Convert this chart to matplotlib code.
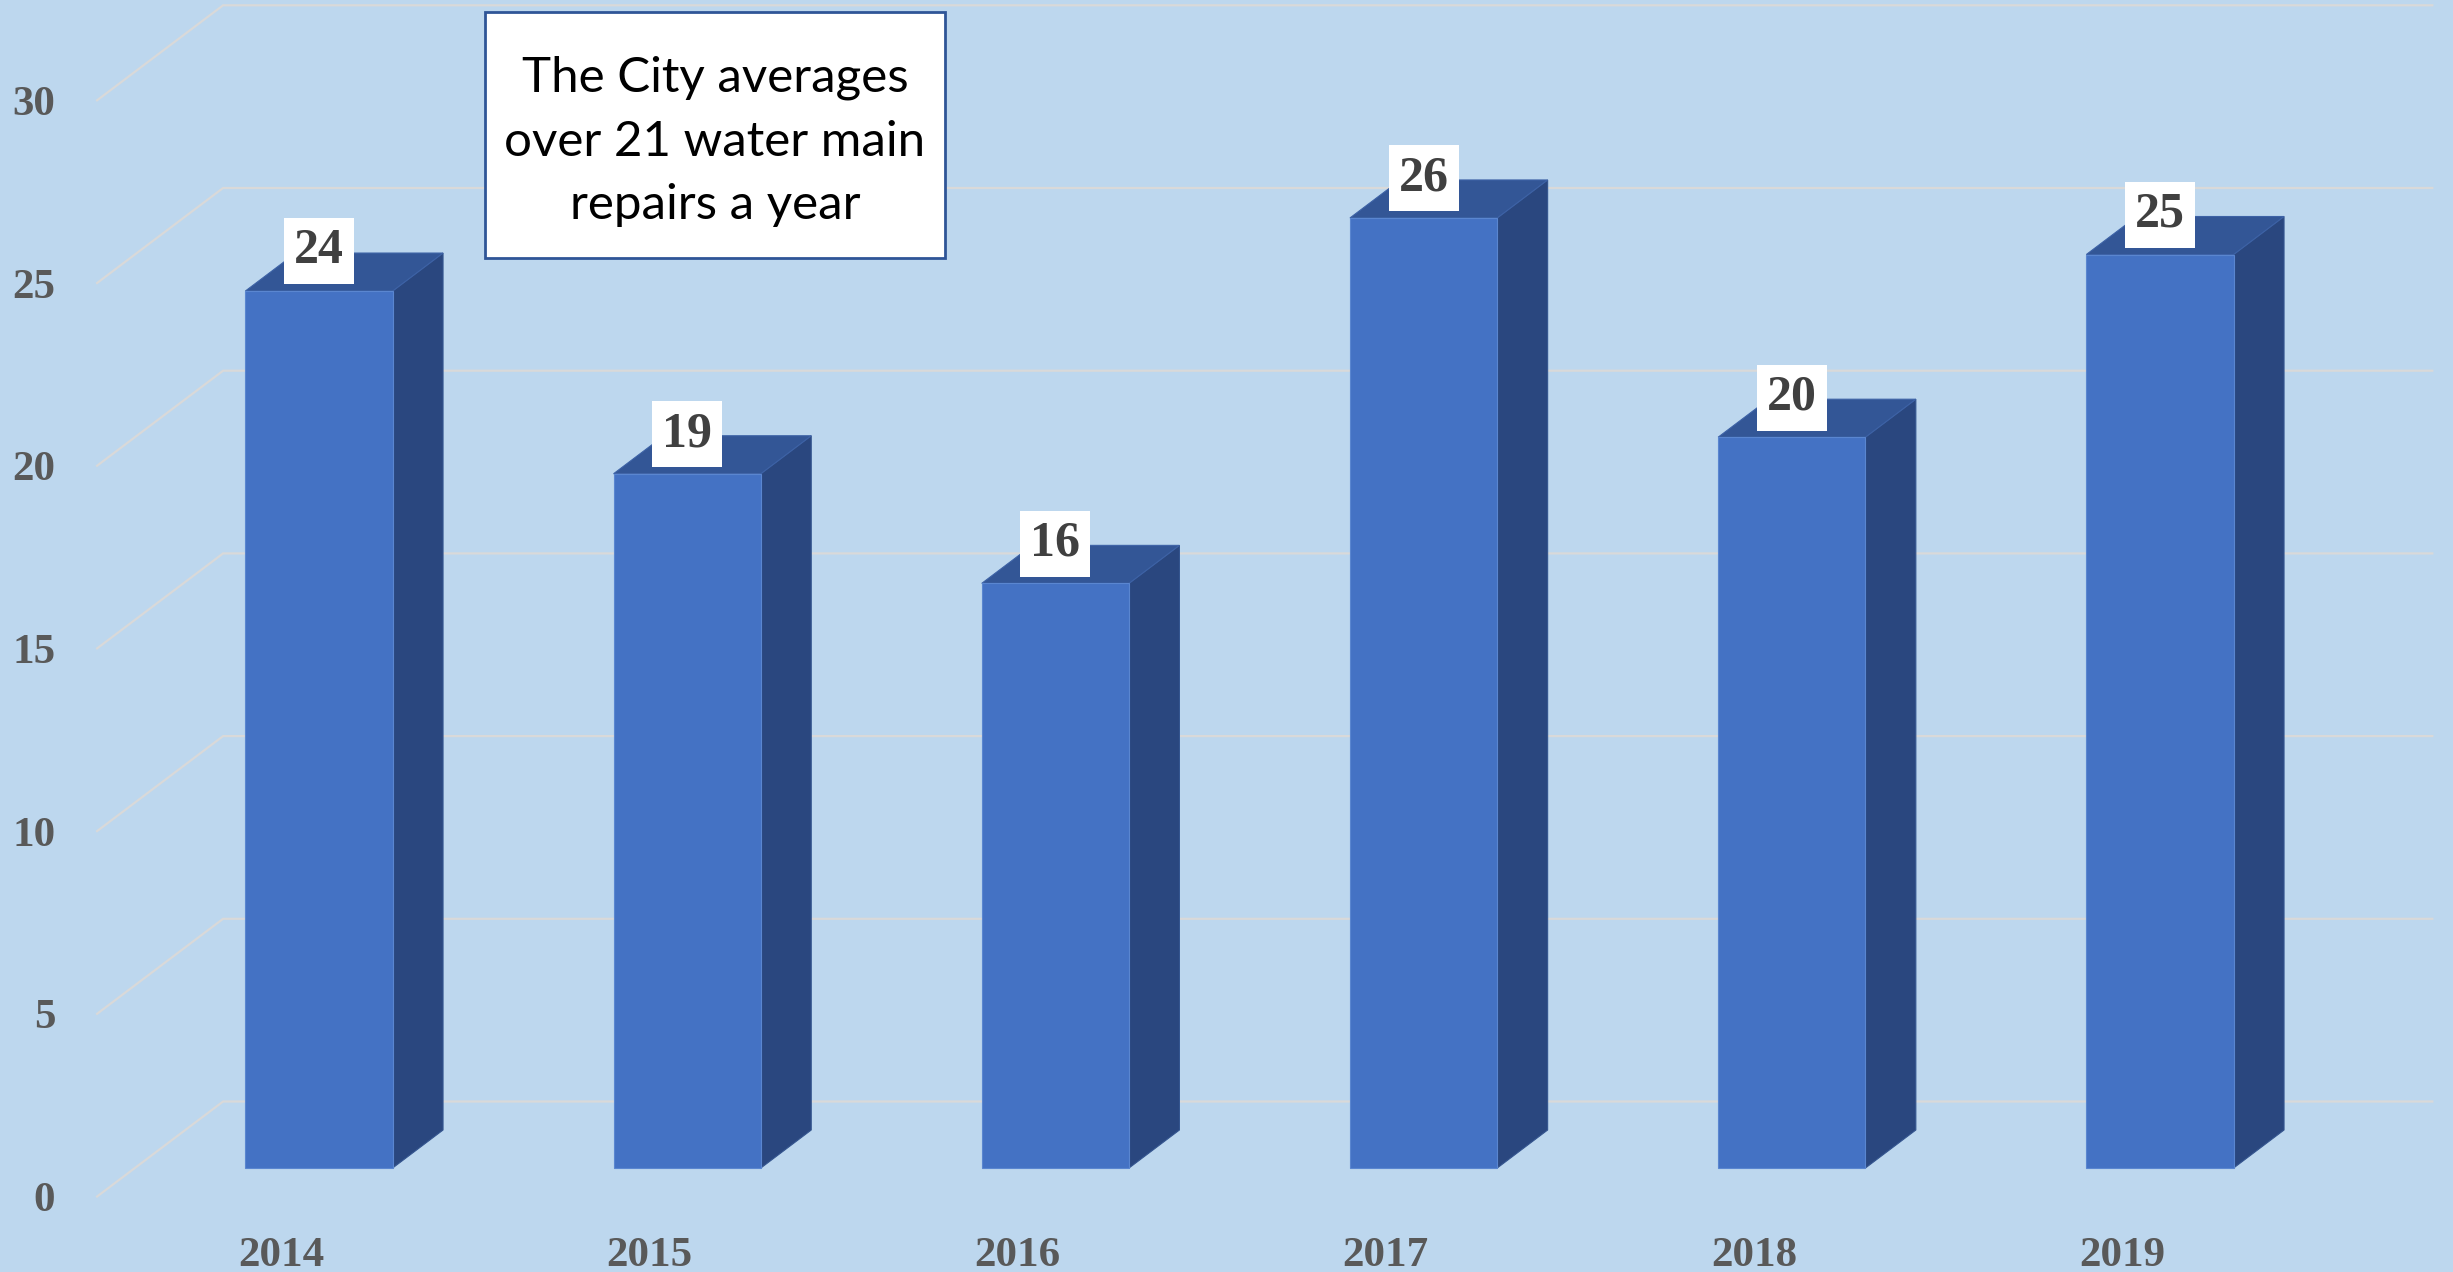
import matplotlib
matplotlib.use("Agg")
import matplotlib.pyplot as plt
from matplotlib.patches import Polygon, Rectangle

# ---- data ----
years = ["2014", "2015", "2016", "2017", "2018", "2019"]
repairs = [24, 19, 16, 26, 20, 25]
y_ticks = [0, 5, 10, 15, 20, 25, 30]
note_text = "The City averages\nover 21 water main\nrepairs a year"

# ---- style ----
BG = "#BDD7EE"
FRONT = "#4472C4"
TOP = "#335696"
SIDE = "#2A477F"
GRID = "#D9D9D9"
TICK_COLOR = "#595959"
LABEL_COLOR = "#404040"

W, H = 2453, 1272
fig = plt.figure(figsize=(W / 100, H / 100), dpi=100, facecolor=BG)

# pixel mapping of the bar-front plane
px0, pxu = 319.0, 368.2      # x pixel of category 0, pixels per category
py0, pyu = 1168.0, 36.54     # y pixel (from top) of value 0, pixels per unit
ax_l, ax_r, ax_t, ax_b = 65, W, 0, 1215
ax = fig.add_axes([ax_l / W, 1 - ax_b / H, (ax_r - ax_l) / W, (ax_b - ax_t) / H])
ax.set_facecolor(BG)
ax.set_xlim((ax_l - px0) / pxu, (ax_r - px0) / pxu)
ax.set_ylim((py0 - ax_b) / pyu, (py0 - ax_t) / pyu)

# oblique depth vector (full floor depth), in data units
DX = 126 / pxu
DY = 95 / pyu
D_FRONT, D_BACK = -0.3, 0.7   # floor front/back relative to bar fronts
BAR_DEPTH = 0.4
BAR_W = 0.40
x_left, x_right = -0.5, len(years) - 0.5


def proj(x, y, d):
    return (x + d * DX, y + d * DY)


# gridlines: left wall + back wall
for v in y_ticks:
    pts = [proj(x_left, v, D_FRONT), proj(x_left, v, D_BACK), proj(x_right, v, D_BACK)]
    ax.plot([p[0] for p in pts], [p[1] for p in pts], color=GRID, lw=1.6,
            zorder=1, solid_joinstyle="miter")

# bars
xs = list(range(len(years)))
ax.bar(xs, repairs, width=BAR_W, color=FRONT, edgecolor="#5A86D0", linewidth=0.8, zorder=3)
for x, v in zip(xs, repairs):
    xl, xr = x - BAR_W / 2, x + BAR_W / 2
    side = [proj(xr, 0, 0), proj(xr, 0, BAR_DEPTH), proj(xr, v, BAR_DEPTH), proj(xr, v, 0)]
    top = [proj(xl, v, 0), proj(xl, v, BAR_DEPTH), proj(xr, v, BAR_DEPTH), proj(xr, v, 0)]
    ax.add_patch(Polygon(side, closed=True, facecolor=SIDE, edgecolor="#34558F",
                         linewidth=0.8, zorder=2))
    ax.add_patch(Polygon(top, closed=True, facecolor=TOP, edgecolor="#3D62A6",
                         linewidth=0.8, zorder=2))
    ax.annotate(str(v), xy=(x, v), xytext=(0, 12), textcoords="offset points",
                ha="center", va="bottom", fontsize=36, fontweight="bold",
                family="Liberation Serif", color=LABEL_COLOR, zorder=5,
                bbox=dict(boxstyle="square,pad=0.2", facecolor="white", edgecolor="none"))

# ticks (placed at the front edge of the floor)
ax.set_yticks([v + D_FRONT * DY for v in y_ticks])
ax.set_yticklabels([str(v) for v in y_ticks])
ax.set_xticks([x + D_FRONT * DX for x in xs])
ax.set_xticklabels(years)
ax.tick_params(axis="y", length=0, pad=7, labelsize=31, labelcolor=TICK_COLOR)
ax.tick_params(axis="x", length=0, pad=16, labelsize=31, labelcolor=TICK_COLOR)
for lab in ax.get_xticklabels() + ax.get_yticklabels():
    lab.set_family("Liberation Serif")
    lab.set_fontweight("bold")
for s in ax.spines.values():
    s.set_visible(False)

# note box
bx0, by0, bx1, by1 = 485, 12.5, 945, 258
fig.patches.append(Rectangle((bx0 / W, 1 - by1 / H), (bx1 - bx0) / W, (by1 - by0) / H,
                             transform=fig.transFigure, facecolor="white",
                             edgecolor="#2F5597", linewidth=2, zorder=10))
fig.text((bx0 + bx1) / 2 / W, 1 - ((by0 + by1) / 2 + 6) / H, note_text, ha="center",
         va="center", fontsize=35.5, family="Lato", color="black", linespacing=1.54,
         zorder=11)

fig.savefig("out.png", dpi=100, facecolor=BG)
